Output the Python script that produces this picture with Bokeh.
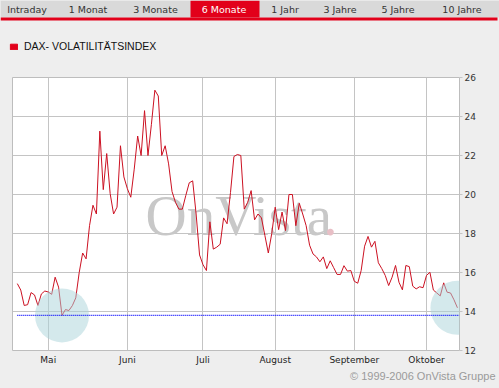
from bokeh.plotting import figure
from bokeh.layouts import column
from bokeh.models import (Range1d, FixedTicker, Legend, LegendItem, Label, Title,
                          GlobalInlineStyleSheet, ColumnDataSource)
from bokeh.embed import file_html
from bokeh.resources import INLINE
from bokeh.core.properties import value

# ---------------- data ----------------
tab_labels = ["Intraday", "1 Monat", "3 Monate", "6 Monate", "1 Jahr", "3 Jahre", "5 Jahre", "10 Jahre"]
selected_tab = "6 Monate"

series_name = "DAX- VOLATILITÄTSINDEX"
# trading-day index, 0 = first trading day of May
day_index = list(range(-9, 120))
vdax = [
    15.43, 15.10, 14.31, 14.35, 14.97, 14.85, 14.31, 14.90, 15.05,
    15.00, 14.88, 15.76, 15.25, 13.80, 14.10, 14.05, 14.30, 14.70, 16.00,
    17.00, 16.70, 18.40, 19.45, 19.00, 23.25, 20.25, 22.10, 20.05, 19.00,
    19.35, 22.50, 20.90, 20.30, 19.86, 21.30, 23.00, 22.00, 24.30, 22.00,
    23.60, 25.35, 25.05, 22.00, 22.50, 21.57, 20.15, 19.60, 19.25, 19.25,
    19.95, 20.60, 20.70, 19.00, 16.90, 16.40, 16.10, 18.60, 17.20, 17.30,
    17.45, 18.80, 18.50, 20.10, 21.95, 22.05, 22.00, 19.25, 19.60, 20.20,
    18.70, 19.00, 18.80, 17.90, 17.00, 18.00, 19.35, 18.20, 19.10, 18.15,
    20.00, 20.00, 18.40, 19.55, 19.00, 18.40, 17.40, 16.95, 16.80, 16.55,
    16.80, 16.20, 16.60, 16.25, 15.90, 15.90, 16.35, 16.07, 16.10, 15.55,
    15.45, 16.10, 17.35, 17.85, 17.30, 17.60, 16.50, 16.20, 15.85, 15.33,
    15.76, 16.36, 15.50, 15.11, 16.36, 16.30, 15.30, 15.16, 15.27, 15.22,
    15.85, 16.01, 15.10, 14.95, 14.80, 15.47, 14.99, 14.95, 14.60, 14.19,
]
month_ticks = [0, 23, 45, 66, 89, 110]
month_labels = ["Mai", "Juni", "Juli", "August", "September", "Oktober"]
y_ticks = [12, 14, 16, 18, 20, 22, 24, 26]

# ---------------- styles ----------------
W = 499
HEAD_H = 67
RED = "#e2001a"
LINE_RED = "#cc1122"
BG = "#eeeeee"
GRID = "#c4c4c4"
FONT = "DejaVu Sans"

# ---------------- header: tab bar + legend ----------------
tab_edges = [0, 55, 122, 190, 259, 312, 369, 428, 497]
head = figure(width=W, height=HEAD_H, x_range=Range1d(0, W), y_range=Range1d(HEAD_H, 0),
              output_backend="svg", toolbar_location=None,
              x_axis_type=None, y_axis_type=None, min_border=0,
              outline_line_color=None, background_fill_color=BG, border_fill_color=BG)
head.frame_align = False
head.grid.visible = False
head.quad(left=[0], right=[W], top=[0], bottom=[17], fill_color="#d9d9d9", line_color=None)
head.quad(left=[0], right=[tab_edges[-1]], top=[17], bottom=[20], fill_color=RED, line_color=None)
sel = tab_labels.index(selected_tab)
head.quad(left=[tab_edges[sel]], right=[tab_edges[sel + 1]], top=[0], bottom=[17],
          fill_color=RED, line_color=None)
centers = [(tab_edges[k] + tab_edges[k + 1]) / 2 - 1 for k in range(len(tab_labels))]
tab_src = ColumnDataSource(dict(
    x=centers, y=[9] * len(tab_labels), t=tab_labels,
    c=["#ffffff" if t == selected_tab else "#333333" for t in tab_labels]))
head.text(x="x", y="y", text="t", text_color="c", source=tab_src,
          text_align="center", text_baseline="middle",
          text_font=value(FONT), text_font_size="9.5px")

# legend swatch renderer (kept off-screen; only its legend glyph is seen)
sw = head.quad(left=[-30], right=[-20], top=[-30], bottom=[-20], fill_color=RED, line_color=RED)
legend = Legend(items=[LegendItem(label=series_name, renderers=[sw])],
                location=(9, HEAD_H - 52), padding=0, margin=0, spacing=0,
                glyph_width=9, glyph_height=7, label_standoff=6, label_height=12,
                label_text_font="Liberation Sans", label_text_font_size="10.5px",
                label_text_color="#111111", border_line_color=None,
                background_fill_alpha=0)
head.add_layout(legend)

# ---------------- main chart ----------------
p = figure(width=W, height=388 - HEAD_H, x_range=Range1d(-10.4, 119.6), y_range=Range1d(12, 26),
           y_axis_location="right", output_backend="svg", toolbar_location=None,
           min_border_left=12, min_border_right=40, min_border_top=77 - HEAD_H,
           min_border_bottom=38,
           background_fill_color="white", border_fill_color=BG,
           outline_line_color="#bdbdbd")
p.frame_align = False

p.xaxis.ticker = FixedTicker(ticks=month_ticks)
p.xaxis.major_label_overrides = {t: l for t, l in zip(month_ticks, month_labels)}
p.xaxis.axis_line_color = None
p.xaxis.major_tick_line_color = None
p.xaxis.major_tick_out = 0
p.xaxis.major_tick_in = 0
p.xaxis.minor_tick_line_color = None
p.xaxis.minor_tick_out = 0
p.xaxis.major_label_standoff = 4
p.xaxis.major_label_text_font = FONT
p.xaxis.major_label_text_font_size = "9px"
p.xaxis.major_label_text_color = "#222222"

p.yaxis.ticker = FixedTicker(ticks=y_ticks)
p.yaxis.axis_line_color = None
p.yaxis.major_tick_in = 0
p.yaxis.major_tick_out = 3
p.yaxis.major_tick_line_color = GRID
p.yaxis.minor_tick_line_color = None
p.yaxis.major_label_standoff = 2
p.yaxis.major_label_text_font = FONT
p.yaxis.major_label_text_font_size = "9px"
p.yaxis.major_label_text_color = "#333333"

p.xgrid.grid_line_color = GRID
p.ygrid.grid_line_color = GRID

# watermark
p.add_layout(Label(x=28.3, y=18.9, text="OnVista", text_font="Liberation Serif",
                   text_font_size="57px", text_color="#c8c8c8", text_baseline="alphabetic",
                   level="underlay"))
p.add_layout(Label(x=80.0, y=18.9, text=".", text_font="Liberation Serif",
                   text_font_size="57px", text_color="#e8bfc6", text_baseline="alphabetic",
                   level="underlay"))

p.line(day_index, vdax, line_color=LINE_RED, line_width=1)

vmin = min(vdax)
imin = vdax.index(vmin)
p.scatter(x=[day_index[imin], day_index[-1]], y=[vmin, vdax[-1]], size=54,
          marker="circle", fill_color="#a9d3da", fill_alpha=0.5, line_color=None)
p.line(x=[day_index[0], p.x_range.end], y=[vmin, vmin], line_color="#0000ff",
       line_dash="1 1", line_width=1.2)

p.add_layout(Title(text="© 1999-2006 OnVista Gruppe", align="right", offset=-36,
                   standoff=0, text_font="Liberation Sans", text_font_size="11px",
                   text_font_style="normal", text_color="#9a9a9a"), "below")

css = GlobalInlineStyleSheet(css="body{margin:0 !important;background:#eeeeee;}")
layout = column(head, p, spacing=0, stylesheets=[css])

open("out.html", "w").write(file_html(layout, INLINE))
